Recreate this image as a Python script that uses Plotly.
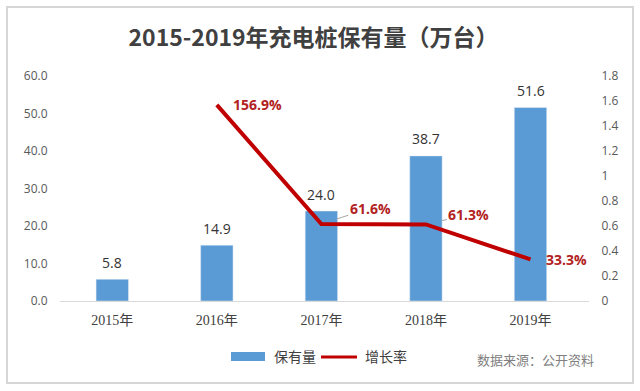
import plotly.graph_objects as go

categories = ["2015年", "2016年", "2017年", "2018年", "2019年"]
stock = [5.8, 14.9, 24.0, 38.7, 51.6]
growth = [None, 1.569, 0.616, 0.613, 0.333]
growth_labels = [None, "156.9%", "61.6%", "61.3%", "33.3%"]
left_ticks = [0, 10, 20, 30, 40, 50, 60]
right_ticks = [0, 0.2, 0.4, 0.6, 0.8, 1.0, 1.2, 1.4, 1.6, 1.8]

BLUE = "#5B9BD5"
RED = "#C00000"
DARK = "#404040"
CJK = "Noto Sans CJK SC"

W, H = 640, 391
ML, MR, MT, MB = 60, 51, 76, 90
PW, PH = W - ML - MR, H - MT - MB


def px(x):
    return (x - ML) / PW


def py(y):
    return (H - y - MB) / PH


fig = go.Figure()
fig.add_trace(go.Bar(x=categories, y=stock, name="保有量", marker_color=BLUE,
                     width=0.31, yaxis="y", showlegend=False))
fig.add_trace(go.Scatter(x=categories, y=growth, name="增长率", mode="lines",
                         line=dict(color=RED, width=4), yaxis="y2",
                         connectgaps=False, showlegend=False))

annotations = []
for c, v in zip(categories, stock):
    annotations.append(dict(x=c, y=v, xref="x", yref="y", text=f"{v:.1f}",
                            showarrow=False, yshift=17,
                            font=dict(family="Open Sans, " + CJK, size=14, color="#333333")))

offsets = [None, (41, 0, False), (49, -16, True), (43, -10, True), (36, 0, False)]
for c, v, t, off in zip(categories, growth, growth_labels, offsets):
    if v is None:
        continue
    ax, ay, arrow = off
    a = dict(x=c, y=v, xref="x", yref="y2", text=f"<b>{t}</b>",
             font=dict(family="Open Sans, " + CJK, size=14, color="#B22222"))
    if arrow:
        a.update(showarrow=True, arrowhead=0, arrowwidth=1, arrowcolor="#A6A6A6",
                 ax=ax, ay=ay, standoff=16)
    else:
        a.update(showarrow=False, xshift=ax, yshift=-ay)
    annotations.append(a)

fig.update_layout(
    width=W, height=H,
    margin=dict(l=ML, r=MR, t=MT, b=MB),
    paper_bgcolor="white", plot_bgcolor="white",
    title=dict(text="<b>2015-2019年充电桩保有量（万台）</b>", x=0.49, xanchor="center",
               y=1 - 38 / H, yanchor="middle",
               font=dict(family=CJK, size=23, color=DARK)),
    xaxis=dict(showgrid=False, showline=True, linecolor="#D9D9D9", linewidth=1,
               ticks="outside", ticklen=6, tickcolor="rgba(0,0,0,0)",
               tickfont=dict(family="Liberation Serif, " + CJK, size=14, color=DARK)),
    yaxis=dict(range=[0, 60], tickvals=left_ticks, tickformat=".1f", showgrid=False,
               zeroline=False, showline=False, ticks="outside", ticklen=9,
               tickcolor="rgba(0,0,0,0)",
               tickfont=dict(family="Open Sans", size=12, color="#595959")),
    yaxis2=dict(range=[0, 1.8], tickvals=right_ticks, overlaying="y", side="right",
                showgrid=False, zeroline=False, showline=False, ticks="outside",
                ticklen=9, tickcolor="rgba(0,0,0,0)",
                tickfont=dict(family="Open Sans", size=12, color="#595959")),
    showlegend=False,
    annotations=annotations,
)

shapes = [
    dict(type="rect", xref="paper", yref="paper",
         x0=px(7), x1=px(633), y0=py(383), y1=py(7),
         line=dict(color="#D6D6D6", width=2), layer="above"),
    dict(type="rect", xref="paper", yref="paper",
         x0=px(231), x1=px(265), y0=py(361), y1=py(352),
         line=dict(width=0), fillcolor=BLUE, layer="above"),
    dict(type="line", xref="paper", yref="paper",
         x0=px(321), x1=px(357), y0=py(357), y1=py(357),
         line=dict(color=RED, width=3), layer="above"),
]
fig.update_layout(shapes=shapes)

legend_texts = [
    ("保有量", 295, 356, DARK, 14),
    ("增长率", 386, 356, DARK, 14),
    ("数据来源：公开资料", 535, 359, "#808080", 13),
]
for t, x, y, col, s in legend_texts:
    fig.add_annotation(x=px(x), y=py(y), xref="paper", yref="paper",
                       text=t, showarrow=False, xanchor="center", yanchor="middle",
                       font=dict(family=CJK, size=s, color=col))

fig.write_html("out.html", config={"displayModeBar": False},
               post_script="document.body.style.margin='0';document.body.style.overflow='hidden';")
